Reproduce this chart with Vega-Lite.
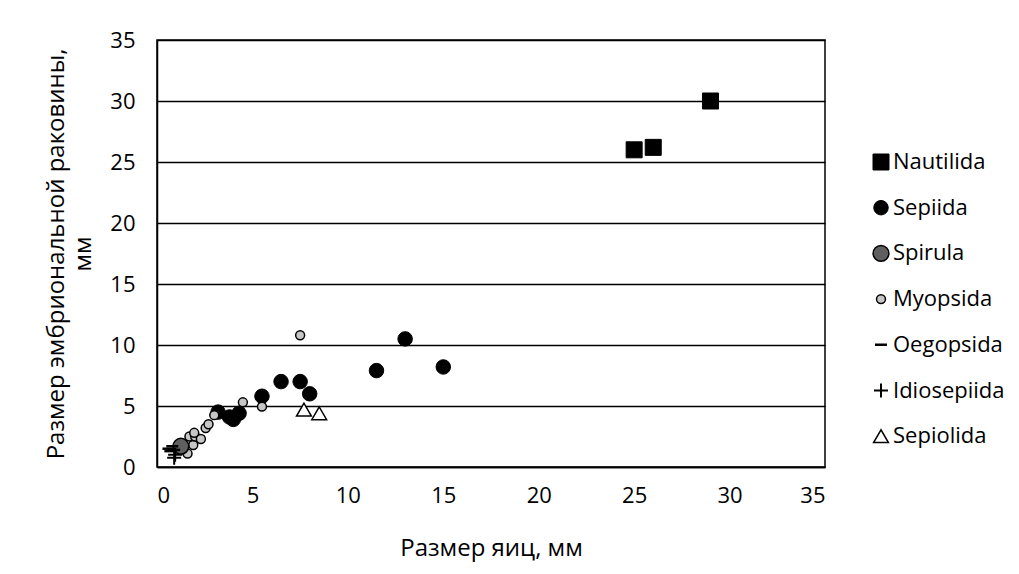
{
  "$schema": "https://vega.github.io/schema/vega-lite/v6.json",
  "width": 668,
  "height": 427,
  "padding": {"left": 44, "top": 29, "right": 5, "bottom": 5},
  "background": "white",
  "config": {
    "font": "Open Sans",
    "view": {"stroke": "black", "strokeWidth": 1.5},
    "axis": {"labelFont": "Open Sans", "titleFont": "Open Sans", "labelColor": "black", "titleColor": "black", "titleFontWeight": "normal", "labelFontSize": 22, "titleFontSize": 24, "domainColor": "black", "domainWidth": 1.5, "ticks": false}
  },
  "data": {"values": [
    {"x": 25, "y": 26, "s": "Nautilida"},
    {"x": 26, "y": 26.2, "s": "Nautilida"},
    {"x": 29, "y": 30, "s": "Nautilida"},
    {"x": 3.2, "y": 4.5, "s": "Sepiida"},
    {"x": 3.8, "y": 4.1, "s": "Sepiida"},
    {"x": 4.0, "y": 3.9, "s": "Sepiida"},
    {"x": 4.3, "y": 4.4, "s": "Sepiida"},
    {"x": 5.5, "y": 5.8, "s": "Sepiida"},
    {"x": 6.5, "y": 7.0, "s": "Sepiida"},
    {"x": 7.5, "y": 7.0, "s": "Sepiida"},
    {"x": 8.0, "y": 6.0, "s": "Sepiida"},
    {"x": 11.5, "y": 7.9, "s": "Sepiida"},
    {"x": 13.0, "y": 10.5, "s": "Sepiida"},
    {"x": 15.0, "y": 8.2, "s": "Sepiida"},
    {"x": 1.6, "y": 1.1, "s": "Myopsida"},
    {"x": 1.9, "y": 1.8, "s": "Myopsida"},
    {"x": 1.7, "y": 2.5, "s": "Myopsida"},
    {"x": 2.0, "y": 2.5, "s": "Myopsida"},
    {"x": 2.3, "y": 2.3, "s": "Myopsida"},
    {"x": 1.95, "y": 2.8, "s": "Myopsida"},
    {"x": 2.55, "y": 3.2, "s": "Myopsida"},
    {"x": 2.7, "y": 3.5, "s": "Myopsida"},
    {"x": 3.0, "y": 4.25, "s": "Myopsida"},
    {"x": 4.5, "y": 5.3, "s": "Myopsida"},
    {"x": 5.5, "y": 4.95, "s": "Myopsida"},
    {"x": 7.5, "y": 10.8, "s": "Myopsida"},
    {"x": 1.25, "y": 1.7, "s": "Spirula"},
    {"x": 0.6, "y": 1.5, "s": "Oegopsida"},
    {"x": 0.7, "y": 1.3, "s": "Oegopsida"},
    {"x": 0.8, "y": 1.7, "s": "Oegopsida"},
    {"x": 0.9, "y": 1.4, "s": "Oegopsida"},
    {"x": 0.9, "y": 0.75, "s": "Idiosepiida"},
    {"x": 0.95, "y": 1.0, "s": "Idiosepiida"},
    {"x": 7.7, "y": 4.7, "s": "Sepiolida"},
    {"x": 8.5, "y": 4.4, "s": "Sepiolida"}
  ]},
  "mark": {"type": "point", "filled": false, "stroke": "black", "opacity": 1},
  "encoding": {
    "x": {"field": "x", "type": "quantitative", "title": "Размер яиц, мм",
      "scale": {"domain": [0, 35], "nice": false},
      "axis": {"values": [0, 5, 10, 15, 20, 25, 30, 35], "grid": false, "labelPadding": 18, "titlePadding": 30}},
    "y": {"field": "y", "type": "quantitative", "title": ["Размер эмбриональной раковины,", "мм"],
      "scale": {"domain": [0, 35], "nice": false},
      "axis": {"values": [0, 5, 10, 15, 20, 25, 30, 35], "grid": true, "gridColor": "black", "gridWidth": 1.5, "gridOpacity": 1, "labelPadding": 22, "titlePadding": 14, "titleLineHeight": 27}},
    "shape": {"field": "s", "type": "nominal",
      "scale": {"domain": ["Nautilida", "Sepiida", "Spirula", "Myopsida", "Oegopsida", "Idiosepiida", "Sepiolida"],
        "range": ["square", "circle", "circle", "circle", "M-1,0L1,0", "M-1,0L1,0M0,-1L0,1", "triangle-up"]},
      "legend": {"title": null, "orient": "none", "legendX": 713, "legendY": 110, "labelFontSize": 22, "labelFont": "Open Sans", "labelColor": "black", "rowPadding": 21.7, "clipHeight": 24, "labelOffset": 1, "symbolStrokeColor": "black"}},
    "fill": {"field": "s", "type": "nominal",
      "scale": {"domain": ["Nautilida", "Sepiida", "Spirula", "Myopsida", "Oegopsida", "Idiosepiida", "Sepiolida"],
        "range": ["black", "black", "#5f5f5f", "#c6c6c6", "black", "black", "white"]}},
    "size": {"field": "s", "type": "nominal",
      "scale": {"type": "ordinal", "domain": ["Nautilida", "Sepiida", "Spirula", "Myopsida", "Oegopsida", "Idiosepiida", "Sepiolida"],
        "range": [256, 210, 250, 80, 144, 196, 220]}},
    "strokeWidth": {"field": "s", "type": "nominal",
      "scale": {"type": "ordinal", "domain": ["Nautilida", "Sepiida", "Spirula", "Myopsida", "Oegopsida", "Idiosepiida", "Sepiolida"],
        "range": [1, 1, 1.5, 1.5, 2.5, 2, 1.5]}}
  }
}
